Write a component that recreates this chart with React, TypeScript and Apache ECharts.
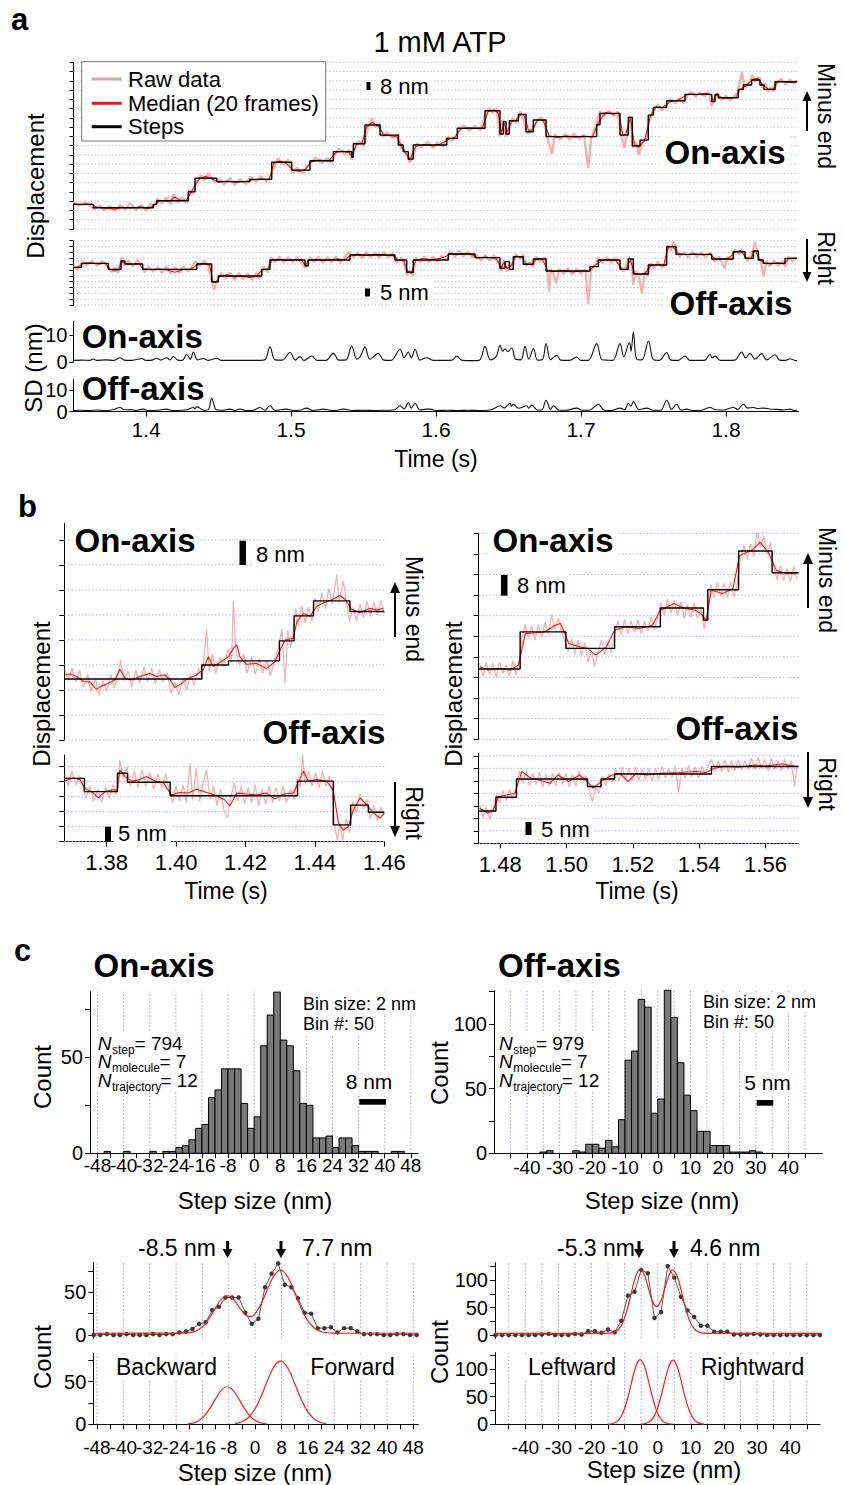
import React, { useEffect, useRef } from "react";
import * as echarts from "echarts";

const F = "'Liberation Sans', Arial, Helvetica, sans-serif";
const RAW_C = "#f5b0b0";
const MED_C = "#ff1010";

// ---------------- Panel a data (time s, displacement nm) ----------------
const aOnSteps = [[1.350,21.3],[1.3637,18.4],[1.4050,21.3],[1.4074,24.4],[1.4292,32.2],[1.4338,43.8],[1.4488,40.9],[1.4717,42.9],[1.4867,57.6],[1.5005,50.9],[1.5131,59.0],[1.5292,66.8],[1.5419,62.0],[1.5430,73.7],[1.5510,89.8],[1.5614,81.1],[1.5740,72.5],[1.5774,66.8],[1.5809,60.4],[1.5843,72.5],[1.6074,78.3],[1.6147,87.0],[1.6338,102.2],[1.6441,82.0],[1.6464,92.7],[1.6483,82.0],[1.6506,93.5],[1.6568,99.0],[1.6621,84.0],[1.6671,94.1],[1.6759,79.8],[1.7108,90.0],[1.7131,99.9],[1.7269,81.1],[1.7326,96.4],[1.7354,71.9],[1.7407,76.8],[1.7464,98.4],[1.7499,105.1],[1.7591,110.8],[1.7717,116.3],[1.7901,110.0],[1.7924,116.3],[1.7947,113.4],[1.8085,120.6],[1.8119,124.4],[1.8177,128.7],[1.8234,124.4],[1.8262,120.6],[1.8338,127.2],[1.849,127.2]];
const aOnMedian = [[1.350,22.0],[1.356,21.0],[1.362,21.8],[1.366,18.8],[1.372,18.0],[1.378,17.0],[1.384,18.8],[1.390,18.2],[1.396,19.2],[1.402,17.6],[1.406,21.0],[1.410,24.8],[1.416,23.8],[1.420,27.5],[1.424,24.6],[1.428,25.0],[1.431,31.5],[1.434,38.0],[1.437,43.5],[1.441,45.5],[1.446,43.0],[1.450,40.5],[1.456,41.5],[1.462,40.2],[1.468,41.0],[1.474,42.5],[1.480,43.3],[1.485,42.8],[1.488,56.5],[1.492,58.8],[1.496,57.2],[1.502,50.5],[1.506,49.8],[1.510,51.5],[1.514,58.2],[1.520,59.6],[1.526,58.7],[1.531,66.2],[1.536,67.4],[1.540,66.0],[1.542,62.5],[1.545,73.0],[1.549,74.2],[1.552,88.0],[1.556,92.0],[1.560,89.0],[1.564,81.5],[1.569,80.6],[1.573,79.5],[1.576,72.0],[1.579,66.0],[1.582,60.0],[1.586,71.5],[1.592,73.0],[1.598,72.0],[1.603,73.2],[1.609,77.8],[1.613,79.0],[1.617,86.5],[1.622,87.5],[1.628,86.8],[1.632,87.3],[1.636,101.5],[1.640,103.0],[1.643,100.0],[1.645,83.0],[1.647,91.5],[1.649,83.5],[1.652,92.8],[1.655,94.0],[1.659,99.5],[1.661,97.5],[1.664,84.5],[1.667,86.0],[1.670,94.5],[1.674,93.5],[1.678,80.5],[1.684,79.0],[1.690,80.6],[1.696,79.2],[1.702,80.2],[1.708,79.5],[1.712,92.0],[1.717,100.5],[1.722,99.2],[1.726,100.2],[1.729,81.0],[1.731,82.0],[1.734,96.0],[1.737,72.5],[1.740,70.5],[1.744,77.0],[1.748,98.0],[1.752,105.5],[1.756,104.6],[1.762,110.2],[1.767,111.5],[1.774,116.5],[1.780,116.0],[1.786,117.2],[1.790,115.8],[1.791,110.5],[1.793,115.8],[1.798,113.2],[1.803,112.8],[1.807,114.0],[1.810,120.8],[1.814,124.0],[1.819,129.5],[1.822,130.2],[1.825,124.8],[1.829,121.0],[1.832,120.2],[1.836,127.8],[1.841,127.0],[1.846,126.5],[1.849,127.4]];
const aOnRaw = [[1.350,23.5],[1.353,20.0],[1.358,23.0],[1.361,20.2],[1.364,17.0],[1.368,20.5],[1.371,16.5],[1.375,19.8],[1.379,15.8],[1.382,20.5],[1.386,17.0],[1.389,22.5],[1.393,16.8],[1.397,20.8],[1.400,16.0],[1.403,22.0],[1.405,18.5],[1.408,26.0],[1.411,22.0],[1.414,27.0],[1.417,21.5],[1.419,30.5],[1.422,22.5],[1.425,27.5],[1.428,22.5],[1.430,34.0],[1.432,30.0],[1.435,41.5],[1.438,46.5],[1.440,42.0],[1.443,48.0],[1.447,40.5],[1.451,43.0],[1.454,38.5],[1.458,43.8],[1.461,38.0],[1.465,43.0],[1.469,38.8],[1.472,45.0],[1.476,40.5],[1.479,45.5],[1.483,40.8],[1.486,46.0],[1.489,55.0],[1.491,61.0],[1.494,55.5],[1.498,60.0],[1.501,48.5],[1.504,53.0],[1.508,48.0],[1.511,54.0],[1.513,57.0],[1.517,61.5],[1.521,56.8],[1.525,61.0],[1.528,57.0],[1.530,64.0],[1.533,69.5],[1.537,64.5],[1.540,68.5],[1.542,60.0],[1.544,71.5],[1.547,76.0],[1.550,71.5],[1.553,87.0],[1.556,96.0],[1.558,88.0],[1.561,91.0],[1.563,79.5],[1.566,83.5],[1.570,78.5],[1.574,82.0],[1.576,70.0],[1.578,68.5],[1.580,63.5],[1.582,57.5],[1.584,63.0],[1.587,74.0],[1.590,70.5],[1.594,75.0],[1.598,70.0],[1.601,74.8],[1.605,71.0],[1.608,80.0],[1.611,76.0],[1.614,80.5],[1.616,85.0],[1.619,89.5],[1.623,85.0],[1.627,89.0],[1.631,85.5],[1.634,99.5],[1.637,104.5],[1.639,100.0],[1.642,104.0],[1.644,80.5],[1.646,94.5],[1.648,80.0],[1.650,85.0],[1.653,95.5],[1.656,91.5],[1.658,101.5],[1.660,96.5],[1.663,82.0],[1.666,87.0],[1.669,92.0],[1.672,96.5],[1.675,91.5],[1.677,78.0],[1.680,65.0],[1.682,81.5],[1.686,77.5],[1.689,82.0],[1.692,77.0],[1.695,82.5],[1.699,77.5],[1.702,81.5],[1.705,52.5],[1.707,78.0],[1.710,88.5],[1.713,101.5],[1.716,98.0],[1.719,102.0],[1.723,97.5],[1.725,101.5],[1.728,79.0],[1.730,70.0],[1.732,84.0],[1.734,98.0],[1.736,70.0],[1.738,74.5],[1.740,64.0],[1.742,74.0],[1.745,79.0],[1.747,95.5],[1.750,103.0],[1.753,107.5],[1.756,102.5],[1.759,108.0],[1.762,112.0],[1.765,108.5],[1.768,113.0],[1.771,109.0],[1.773,114.5],[1.776,118.5],[1.779,114.0],[1.782,118.0],[1.785,114.5],[1.788,118.5],[1.790,106.5],[1.792,112.0],[1.794,117.5],[1.797,111.5],[1.800,115.0],[1.803,111.0],[1.806,115.5],[1.808,118.0],[1.811,135.5],[1.813,121.5],[1.816,126.5],[1.818,133.0],[1.820,127.0],[1.823,131.5],[1.825,122.0],[1.827,126.0],[1.829,118.5],[1.831,122.5],[1.833,119.0],[1.835,126.0],[1.838,129.5],[1.841,125.0],[1.844,129.0],[1.847,125.5],[1.849,128.5]];

const aOffSteps = [[1.350,32.2],[1.3556,35.6],[1.3740,30.5],[1.3828,37.6],[1.3855,35.1],[1.3977,30.5],[1.4350,35.1],[1.4453,19.9],[1.4499,24.8],[1.4798,30.5],[1.4855,38.5],[1.5097,33.6],[1.5119,38.5],[1.5407,42.8],[1.5717,38.5],[1.5798,28.0],[1.5843,38.5],[1.6085,43.6],[1.6269,40.5],[1.6441,31.4],[1.6476,37.1],[1.6506,30.5],[1.6533,41.3],[1.6602,34.8],[1.6671,39.3],[1.6759,29.1],[1.7062,32.8],[1.7119,38.5],[1.7269,30.5],[1.7326,39.3],[1.7361,26.5],[1.7464,34.2],[1.7591,49.9],[1.7655,43.3],[1.7901,39.3],[1.8050,45.6],[1.8131,39.9],[1.8188,46.2],[1.8223,38.5],[1.8257,35.6],[1.8407,39.9],[1.849,39.9]];
const aOffMedian = [[1.350,31.8],[1.354,33.0],[1.357,35.8],[1.362,36.2],[1.367,35.0],[1.372,35.8],[1.375,31.0],[1.378,29.0],[1.381,30.0],[1.383,37.2],[1.386,35.5],[1.390,34.6],[1.395,35.3],[1.398,31.0],[1.404,30.2],[1.410,30.8],[1.416,29.5],[1.420,28.0],[1.426,30.4],[1.431,30.8],[1.436,35.0],[1.441,35.6],[1.444,34.0],[1.446,20.0],[1.448,19.0],[1.451,24.5],[1.456,25.8],[1.461,24.0],[1.466,24.8],[1.471,23.5],[1.476,24.5],[1.480,30.0],[1.484,30.8],[1.487,38.5],[1.492,39.2],[1.497,38.0],[1.502,38.6],[1.507,38.8],[1.510,33.8],[1.512,37.8],[1.517,39.0],[1.522,38.2],[1.527,38.6],[1.532,39.4],[1.537,38.5],[1.541,42.6],[1.546,43.2],[1.551,42.5],[1.556,42.9],[1.561,43.3],[1.566,42.6],[1.571,42.0],[1.574,38.8],[1.578,37.5],[1.580,29.5],[1.583,27.2],[1.586,38.2],[1.591,39.6],[1.596,38.8],[1.601,39.5],[1.606,41.0],[1.610,43.8],[1.615,43.0],[1.620,44.2],[1.625,43.0],[1.629,40.2],[1.634,41.0],[1.639,40.2],[1.642,39.0],[1.645,32.0],[1.647,36.5],[1.649,31.0],[1.652,34.0],[1.655,41.8],[1.659,40.8],[1.662,35.5],[1.666,34.2],[1.669,39.0],[1.673,39.8],[1.677,29.8],[1.682,28.5],[1.688,29.5],[1.694,28.2],[1.700,29.4],[1.705,28.6],[1.709,33.2],[1.714,38.0],[1.719,38.8],[1.724,38.0],[1.728,31.2],[1.731,30.0],[1.734,38.6],[1.737,27.0],[1.741,25.8],[1.744,26.8],[1.748,33.5],[1.753,34.8],[1.757,33.6],[1.760,49.0],[1.763,50.5],[1.767,44.0],[1.772,43.0],[1.778,43.8],[1.784,42.8],[1.789,43.5],[1.792,39.8],[1.797,39.0],[1.802,40.0],[1.806,45.2],[1.810,46.5],[1.814,40.5],[1.817,39.5],[1.820,46.8],[1.823,39.0],[1.826,36.0],[1.831,35.2],[1.836,36.2],[1.840,35.0],[1.843,39.5],[1.847,40.4],[1.849,39.8]];
const aOffRaw = [[1.350,33.5],[1.353,30.0],[1.356,37.5],[1.359,33.8],[1.363,38.0],[1.366,33.5],[1.370,37.8],[1.373,33.0],[1.376,28.5],[1.379,32.0],[1.381,27.5],[1.383,40.5],[1.385,34.0],[1.388,38.0],[1.391,33.0],[1.394,38.5],[1.397,34.0],[1.399,28.0],[1.402,33.0],[1.405,28.5],[1.408,32.5],[1.411,27.5],[1.414,33.0],[1.417,27.0],[1.420,32.5],[1.423,27.5],[1.426,33.0],[1.429,28.5],[1.432,33.5],[1.434,37.5],[1.437,33.0],[1.440,38.0],[1.443,33.5],[1.445,22.0],[1.447,12.8],[1.449,21.0],[1.452,27.5],[1.455,22.5],[1.458,28.0],[1.461,21.5],[1.464,27.5],[1.467,21.8],[1.470,27.0],[1.473,21.5],[1.476,27.5],[1.478,22.0],[1.481,33.0],[1.484,28.0],[1.486,41.0],[1.489,36.5],[1.492,41.5],[1.495,36.0],[1.498,41.0],[1.501,36.5],[1.504,41.0],[1.507,36.0],[1.510,31.5],[1.513,41.0],[1.516,36.5],[1.519,41.5],[1.522,36.0],[1.525,41.0],[1.528,36.5],[1.531,41.5],[1.534,36.0],[1.537,41.0],[1.540,45.5],[1.543,40.5],[1.546,45.0],[1.549,40.0],[1.552,45.5],[1.555,40.5],[1.558,45.0],[1.561,40.0],[1.564,45.5],[1.567,40.5],[1.570,44.0],[1.573,36.0],[1.576,40.5],[1.578,35.0],[1.580,25.0],[1.582,30.0],[1.584,24.5],[1.586,40.5],[1.589,36.5],[1.592,41.5],[1.595,36.5],[1.598,41.5],[1.601,37.0],[1.604,42.0],[1.607,38.5],[1.610,46.0],[1.613,41.0],[1.616,46.5],[1.619,41.5],[1.622,46.0],[1.625,41.0],[1.628,43.0],[1.631,38.0],[1.634,43.0],[1.637,38.0],[1.640,42.5],[1.643,36.0],[1.645,29.0],[1.647,38.5],[1.649,28.5],[1.651,36.0],[1.653,31.0],[1.655,44.0],[1.658,39.0],[1.660,43.5],[1.662,33.5],[1.665,37.0],[1.667,32.0],[1.669,41.5],[1.672,37.0],[1.675,41.0],[1.677,27.0],[1.678,11.4],[1.679,31.0],[1.681,26.0],[1.683,18.6],[1.685,31.0],[1.688,26.5],[1.691,31.5],[1.694,26.0],[1.697,31.0],[1.700,26.5],[1.703,31.0],[1.705,1.0],[1.707,30.5],[1.710,35.0],[1.712,40.5],[1.715,36.0],[1.718,41.0],[1.721,36.0],[1.724,40.5],[1.727,33.0],[1.729,28.5],[1.731,33.0],[1.733,41.5],[1.735,36.0],[1.736,17.1],[1.738,29.0],[1.740,24.0],[1.742,10.0],[1.744,29.0],[1.746,24.5],[1.748,36.0],[1.750,31.5],[1.753,37.0],[1.756,32.0],[1.758,36.0],[1.760,51.0],[1.762,46.5],[1.764,54.0],[1.766,46.0],[1.768,41.0],[1.771,45.5],[1.774,40.5],[1.777,46.0],[1.780,41.0],[1.783,45.5],[1.786,40.5],[1.789,45.0],[1.792,37.0],[1.795,41.5],[1.797,36.5],[1.799,31.4],[1.801,41.5],[1.804,38.0],[1.806,47.5],[1.809,43.0],[1.811,48.0],[1.813,42.0],[1.815,37.5],[1.817,42.0],[1.819,49.0],[1.820,54.0],[1.822,44.0],[1.824,36.5],[1.826,24.2],[1.828,38.0],[1.830,33.0],[1.833,38.0],[1.836,33.5],[1.839,37.5],[1.841,33.0],[1.843,41.5],[1.846,37.5],[1.849,41.0]];

const sdOn = [[1.350,0.6],[1.356,0.7],[1.361,0.6],[1.3637,1.1],[1.366,0.6],[1.372,0.8],[1.378,0.6],[1.3821,1.6],[1.385,0.7],[1.390,0.6],[1.3940,1.0],[1.3970,1.3],[1.400,0.6],[1.404,0.7],[1.4074,1.4],[1.410,0.7],[1.4143,1.6],[1.4165,0.8],[1.4189,2.0],[1.422,0.7],[1.425,0.6],[1.4281,2.8],[1.4305,1.0],[1.4327,3.7],[1.4355,0.8],[1.4396,1.3],[1.443,0.6],[1.4487,1.4],[1.452,0.6],[1.460,0.6],[1.470,0.6],[1.478,0.6],[1.482,0.8],[1.4855,5.6],[1.489,0.8],[1.494,0.7],[1.4993,3.5],[1.503,0.7],[1.5062,2.0],[1.509,0.6],[1.5143,2.2],[1.518,0.6],[1.524,0.6],[1.5292,3.2],[1.533,0.7],[1.538,0.8],[1.5418,5.9],[1.5455,1.0],[1.5480,2.2],[1.5510,5.6],[1.5545,1.0],[1.5602,3.2],[1.564,0.7],[1.569,0.6],[1.5752,4.7],[1.578,1.6],[1.5809,3.7],[1.583,1.5],[1.5855,4.7],[1.589,0.7],[1.5936,1.6],[1.598,0.6],[1.605,0.6],[1.611,0.7],[1.6143,2.2],[1.618,0.6],[1.625,0.5],[1.630,0.7],[1.6338,5.8],[1.6375,0.8],[1.6415,2.0],[1.6442,6.2],[1.6460,4.0],[1.6476,4.9],[1.6495,3.8],[1.6522,5.2],[1.655,1.0],[1.6585,0.8],[1.6614,5.8],[1.6640,1.0],[1.6672,5.0],[1.670,0.7],[1.6735,1.0],[1.6759,6.8],[1.679,0.8],[1.6833,2.5],[1.686,0.7],[1.692,0.6],[1.6970,1.8],[1.700,0.6],[1.705,0.6],[1.7108,6.8],[1.7145,0.8],[1.718,0.7],[1.722,0.6],[1.7269,6.8],[1.7295,2.0],[1.7334,7.2],[1.7345,4.0],[1.7361,11.1],[1.7385,1.0],[1.742,0.8],[1.7465,7.8],[1.750,0.8],[1.754,0.6],[1.7591,3.5],[1.762,0.7],[1.767,0.6],[1.7718,2.2],[1.775,0.6],[1.780,0.6],[1.785,0.6],[1.7890,2.8],[1.7905,1.5],[1.7924,2.2],[1.796,0.6],[1.801,0.6],[1.806,0.7],[1.8108,3.7],[1.8135,1.5],[1.8166,3.2],[1.820,1.0],[1.8246,3.1],[1.828,0.8],[1.8338,2.7],[1.837,0.7],[1.841,0.6],[1.8442,1.2],[1.8475,0.6],[1.849,0.5]];
const sdOff = [[1.350,0.5],[1.355,0.6],[1.360,0.4],[1.366,0.7],[1.372,0.5],[1.3775,0.9],[1.3821,1.9],[1.385,0.8],[1.389,0.9],[1.393,0.5],[1.3982,1.1],[1.402,0.4],[1.408,0.6],[1.4143,1.1],[1.418,0.5],[1.424,0.6],[1.428,0.8],[1.4327,1.9],[1.4338,1.2],[1.4350,2.3],[1.440,0.6],[1.4430,0.9],[1.4453,6.2],[1.4485,0.8],[1.452,0.6],[1.4579,1.1],[1.461,0.5],[1.4648,1.1],[1.469,0.5],[1.474,0.6],[1.4786,1.9],[1.482,0.6],[1.4855,2.7],[1.489,0.5],[1.4970,1.1],[1.502,0.5],[1.506,0.6],[1.5108,1.6],[1.515,0.5],[1.5223,1.1],[1.528,0.5],[1.532,0.6],[1.5361,1.1],[1.542,0.5],[1.550,0.6],[1.558,0.5],[1.565,0.6],[1.571,0.7],[1.5752,2.7],[1.578,1.2],[1.5809,4.2],[1.583,1.5],[1.5855,3.9],[1.589,0.7],[1.5936,1.1],[1.5959,1.1],[1.600,0.5],[1.608,0.6],[1.615,0.5],[1.622,0.6],[1.630,0.5],[1.636,0.6],[1.640,1.4],[1.6442,2.7],[1.647,1.6],[1.6511,3.9],[1.652,2.5],[1.6534,3.4],[1.657,1.5],[1.6626,2.7],[1.664,1.5],[1.6660,3.0],[1.670,0.7],[1.673,0.8],[1.6759,5.3],[1.679,1.0],[1.6810,2.7],[1.685,0.6],[1.690,0.6],[1.6970,1.6],[1.701,0.6],[1.706,0.7],[1.7120,3.4],[1.716,0.6],[1.721,0.5],[1.7269,1.6],[1.730,0.8],[1.7327,3.9],[1.7345,2.5],[1.7361,4.7],[1.740,0.8],[1.7453,1.6],[1.750,0.6],[1.755,0.6],[1.7591,5.3],[1.7625,1.0],[1.7660,3.4],[1.769,0.6],[1.7729,1.1],[1.777,0.5],[1.783,0.6],[1.7890,1.9],[1.793,0.8],[1.798,0.7],[1.8051,1.9],[1.808,1.0],[1.8120,3.4],[1.815,1.6],[1.8189,1.9],[1.822,1.4],[1.8258,1.6],[1.830,1.2],[1.835,1.0],[1.840,0.7],[1.8442,1.1],[1.847,0.5],[1.849,0.6]];

// ---------------- Panel b data ----------------
const bLOnSteps = [[1.3678,19.5],[1.4074,24.0],[1.4151,25.3],[1.4298,31.7],[1.4340,39.7],[1.4396,44.5],[1.4501,41.1],[1.4600,41.1]];
const bLOnMedian = [[1.3680,20.8],[1.3694,21.1],[1.3714,20.3],[1.3733,18.7],[1.3752,18.5],[1.3771,16.2],[1.3786,17.3],[1.3800,17.9],[1.3824,19.2],[1.3838,22.6],[1.3853,19.7],[1.3872,19.2],[1.3896,20.3],[1.3925,21.3],[1.3944,20.3],[1.3968,20.8],[1.3983,19.2],[1.3997,16.8],[1.4016,18.1],[1.4035,19.7],[1.4059,20.8],[1.4079,22.6],[1.4093,26.6],[1.4107,23.5],[1.4131,25.1],[1.4151,26.6],[1.4165,29.3],[1.4175,30.4],[1.4184,26.6],[1.4203,24.2],[1.4232,24.5],[1.4261,22.9],[1.4285,25.1],[1.4300,28.8],[1.4314,32.0],[1.4338,32.5],[1.4348,37.9],[1.4367,40.5],[1.4386,39.5],[1.4405,42.7],[1.4424,43.8],[1.4448,44.8],[1.4472,46.2],[1.4487,45.0],[1.4506,41.8],[1.4530,40.7],[1.4559,42.1],[1.4578,41.6],[1.4597,42.1]];
const bLOnRaw = [[1.3680,22.5],[1.3690,19.0],[1.3700,23.0],[1.3712,18.5],[1.3722,22.5],[1.3733,17.0],[1.3745,21.0],[1.3755,15.5],[1.3768,19.5],[1.3778,14.5],[1.3790,19.0],[1.3800,15.5],[1.3812,21.0],[1.3822,16.5],[1.3835,21.5],[1.3840,25.6],[1.3850,19.0],[1.3862,22.0],[1.3872,17.0],[1.3885,22.5],[1.3895,18.0],[1.3908,23.5],[1.3918,18.5],[1.3930,23.0],[1.3940,18.0],[1.3952,22.5],[1.3962,18.5],[1.3975,21.5],[1.3985,15.0],[1.3997,18.5],[1.4008,14.5],[1.4020,19.5],[1.4030,16.0],[1.4042,21.0],[1.4052,17.5],[1.4065,23.0],[1.4075,19.5],[1.4088,35.5],[1.4095,22.0],[1.4105,27.5],[1.4115,21.5],[1.4127,26.5],[1.4137,23.5],[1.4150,29.0],[1.4160,25.0],[1.4165,44.5],[1.4172,29.0],[1.4182,24.0],[1.4195,27.5],[1.4205,21.5],[1.4218,26.5],[1.4228,21.0],[1.4240,26.0],[1.4250,21.5],[1.4262,25.5],[1.4272,20.5],[1.4285,26.0],[1.4295,29.5],[1.4305,35.5],[1.4314,18.1],[1.4322,35.0],[1.4330,29.5],[1.4338,34.5],[1.4345,42.0],[1.4352,36.5],[1.4362,43.0],[1.4372,37.5],[1.4382,42.5],[1.4392,38.0],[1.4400,45.5],[1.4410,41.0],[1.4420,47.0],[1.4430,42.0],[1.4440,48.5],[1.4450,43.5],[1.4463,52.8],[1.4470,44.0],[1.4482,51.0],[1.4490,45.0],[1.4500,37.9],[1.4510,42.5],[1.4520,38.0],[1.4530,43.5],[1.4540,39.0],[1.4550,44.5],[1.4560,39.5],[1.4570,44.0],[1.4580,40.0],[1.4590,44.5],[1.4600,40.5]];
const bLOffSteps = [[1.3678,21.1],[1.3736,16.7],[1.3831,22.8],[1.3860,19.8],[1.3983,15.3],[1.4350,20.2],[1.4453,5.6],[1.4503,12.2],[1.4554,9.8],[1.4600,9.8]];
const bLOffMedian = [[1.3680,20.2],[1.3704,21.3],[1.3723,20.7],[1.3738,17.7],[1.3762,16.2],[1.3776,14.6],[1.3795,16.7],[1.3814,17.2],[1.3831,17.2],[1.3838,23.9],[1.3853,21.7],[1.3872,20.2],[1.3896,20.7],[1.3915,21.7],[1.3939,20.2],[1.3963,19.7],[1.3987,15.6],[1.4011,16.4],[1.4035,16.2],[1.4059,17.5],[1.4088,16.4],[1.4117,15.3],[1.4141,13.9],[1.4155,11.9],[1.4175,16.2],[1.4203,15.9],[1.4232,15.6],[1.4261,16.2],[1.4285,14.2],[1.4309,15.9],[1.4338,16.2],[1.4352,19.7],[1.4367,23.6],[1.4381,20.2],[1.4405,20.7],[1.4434,20.2],[1.4453,17.2],[1.4468,6.2],[1.4482,3.9],[1.4496,5.0],[1.4511,10.6],[1.4530,14.6],[1.4549,12.4],[1.4568,9.6],[1.4588,7.9],[1.4600,9.6]];
const bLOffRaw = [[1.3680,22.5],[1.3690,18.5],[1.3700,23.5],[1.3712,19.0],[1.3722,22.0],[1.3733,18.0],[1.3740,14.5],[1.3752,18.5],[1.3762,13.5],[1.3775,17.5],[1.3785,13.0],[1.3797,18.5],[1.3807,14.5],[1.3818,19.0],[1.3828,15.5],[1.3838,27.2],[1.3848,21.0],[1.3858,25.0],[1.3868,18.5],[1.3880,23.5],[1.3890,18.0],[1.3902,24.0],[1.3912,18.5],[1.3925,23.0],[1.3935,17.5],[1.3948,22.5],[1.3958,18.0],[1.3970,22.5],[1.3980,17.0],[1.3990,13.0],[1.4000,18.5],[1.4010,13.5],[1.4020,19.0],[1.4030,13.0],[1.4040,26.1],[1.4048,14.0],[1.4058,24.5],[1.4068,13.5],[1.4078,19.5],[1.4088,24.0],[1.4098,14.0],[1.4108,18.5],[1.4118,12.0],[1.4128,17.5],[1.4138,10.5],[1.4148,7.8],[1.4158,15.0],[1.4168,19.5],[1.4178,13.5],[1.4188,18.5],[1.4198,12.5],[1.4208,18.0],[1.4218,13.0],[1.4228,19.0],[1.4238,12.0],[1.4248,17.5],[1.4258,12.5],[1.4268,18.5],[1.4278,13.0],[1.4288,18.0],[1.4298,13.5],[1.4308,18.5],[1.4318,13.0],[1.4330,17.5],[1.4340,14.0],[1.4350,21.5],[1.4358,18.0],[1.4365,28.9],[1.4372,19.0],[1.4382,23.5],[1.4392,18.5],[1.4402,23.0],[1.4412,18.0],[1.4422,23.5],[1.4432,18.5],[1.4442,22.0],[1.4450,16.0],[1.4458,4.5],[1.4465,0.5],[1.4472,6.0],[1.4480,0.5],[1.4490,7.5],[1.4500,3.0],[1.4510,13.5],[1.4520,9.5],[1.4530,16.0],[1.4540,11.0],[1.4550,14.0],[1.4560,7.5],[1.4570,12.0],[1.4580,7.0],[1.4590,11.5],[1.4600,8.5]];

const bROnSteps = [[1.4735,27.3],[1.4860,41.7],[1.4998,35.3],[1.5145,43.7],[1.5283,51.0],[1.5413,46.3],[1.5426,58.1],[1.5519,73.1],[1.5620,64.7],[1.5700,64.7]];
const bROnMedian = [[1.4738,28.2],[1.4763,26.9],[1.4795,27.5],[1.4828,26.9],[1.4855,28.8],[1.4876,41.1],[1.4901,41.3],[1.4933,41.7],[1.4966,44.3],[1.4982,45.0],[1.5007,37.2],[1.5039,35.9],[1.5063,35.3],[1.5088,32.7],[1.5120,35.9],[1.5145,42.4],[1.5177,43.7],[1.5218,43.0],[1.5259,44.3],[1.5283,50.1],[1.5324,52.7],[1.5356,50.8],[1.5389,50.1],[1.5405,48.8],[1.5421,46.3],[1.5437,57.9],[1.5470,56.6],[1.5502,58.5],[1.5522,71.4],[1.5559,73.4],[1.5584,76.6],[1.5608,72.7],[1.5633,65.6],[1.5665,64.3],[1.5694,64.3]];
const bROnRaw = [[1.4738,29.5],[1.4748,24.5],[1.4758,30.0],[1.4768,25.0],[1.4778,29.5],[1.4788,24.0],[1.4798,30.0],[1.4808,25.5],[1.4818,29.0],[1.4828,24.5],[1.4838,30.5],[1.4848,25.0],[1.4858,31.0],[1.4865,38.5],[1.4875,44.5],[1.4885,39.0],[1.4895,44.0],[1.4905,38.5],[1.4915,44.5],[1.4925,39.5],[1.4935,45.5],[1.4945,41.0],[1.4955,48.2],[1.4965,42.5],[1.4975,47.0],[1.4985,41.5],[1.4995,38.0],[1.5005,34.0],[1.5015,39.0],[1.5025,33.0],[1.5035,38.5],[1.5045,32.5],[1.5055,37.5],[1.5065,30.0],[1.5075,34.5],[1.5085,28.2],[1.5095,34.0],[1.5105,38.5],[1.5115,33.0],[1.5125,38.0],[1.5135,33.5],[1.5145,41.0],[1.5155,46.0],[1.5165,40.5],[1.5175,46.5],[1.5185,41.0],[1.5195,46.0],[1.5205,41.5],[1.5215,46.5],[1.5225,41.0],[1.5235,46.0],[1.5245,42.0],[1.5255,47.5],[1.5265,42.5],[1.5275,47.5],[1.5285,53.0],[1.5295,48.5],[1.5305,54.5],[1.5315,49.0],[1.5325,54.0],[1.5335,48.0],[1.5345,53.5],[1.5355,47.0],[1.5365,52.5],[1.5375,47.5],[1.5385,53.0],[1.5395,47.0],[1.5405,51.0],[1.5415,43.0],[1.5425,48.5],[1.5435,60.0],[1.5445,55.0],[1.5455,61.0],[1.5465,55.5],[1.5475,60.5],[1.5485,55.0],[1.5495,61.0],[1.5505,55.5],[1.5515,60.0],[1.5525,70.5],[1.5535,75.5],[1.5545,70.0],[1.5555,76.0],[1.5565,71.0],[1.5575,81.8],[1.5585,74.5],[1.5595,79.0],[1.5605,72.0],[1.5615,76.5],[1.5625,67.0],[1.5635,62.0],[1.5645,67.5],[1.5655,61.5],[1.5665,66.5],[1.5675,61.0],[1.5685,67.0],[1.5695,62.0]];
const bROffSteps = [[1.4735,12.9],[1.4787,18.4],[1.4849,25.7],[1.5063,22.7],[1.5104,25.7],[1.5145,27.7],[1.5437,30.7],[1.5700,30.7]];
const bROffMedian = [[1.4738,14.0],[1.4763,12.0],[1.4779,13.3],[1.4795,18.7],[1.4820,19.3],[1.4844,20.0],[1.4865,28.7],[1.4893,26.0],[1.4917,25.3],[1.4950,24.0],[1.4974,27.3],[1.5007,24.7],[1.5039,27.3],[1.5063,24.7],[1.5080,22.0],[1.5104,24.7],[1.5137,27.3],[1.5161,28.0],[1.5185,24.7],[1.5210,28.0],[1.5242,27.3],[1.5283,28.0],[1.5340,28.3],[1.5389,28.7],[1.5421,28.3],[1.5446,30.0],[1.5478,30.7],[1.5519,30.4],[1.5567,31.3],[1.5600,30.9],[1.5649,31.7],[1.5694,30.7]];
const bROffRaw = [[1.4738,15.5],[1.4748,10.5],[1.4758,14.5],[1.4768,9.5],[1.4778,14.0],[1.4788,19.5],[1.4798,16.0],[1.4808,21.0],[1.4818,17.0],[1.4828,21.5],[1.4838,17.5],[1.4848,22.0],[1.4858,29.0],[1.4868,24.0],[1.4878,28.5],[1.4888,23.0],[1.4898,28.0],[1.4908,23.5],[1.4918,28.5],[1.4928,22.5],[1.4938,27.5],[1.4948,23.0],[1.4958,28.0],[1.4968,23.0],[1.4978,28.5],[1.4988,23.5],[1.4998,28.0],[1.5008,22.5],[1.5018,27.5],[1.5028,23.0],[1.5038,29.0],[1.5048,24.0],[1.5058,27.0],[1.5068,21.0],[1.5078,16.7],[1.5088,22.5],[1.5098,20.0],[1.5108,27.0],[1.5118,23.0],[1.5128,27.5],[1.5138,24.0],[1.5148,30.0],[1.5158,25.0],[1.5168,30.5],[1.5178,25.5],[1.5188,30.0],[1.5198,25.0],[1.5208,30.5],[1.5218,25.0],[1.5228,29.5],[1.5238,25.5],[1.5248,30.0],[1.5258,25.0],[1.5268,30.0],[1.5278,25.5],[1.5288,31.0],[1.5298,26.0],[1.5308,30.0],[1.5318,26.5],[1.5328,31.0],[1.5338,20.5],[1.5348,30.0],[1.5358,26.0],[1.5368,31.0],[1.5378,26.5],[1.5388,30.5],[1.5398,26.0],[1.5408,31.0],[1.5418,27.5],[1.5428,31.5],[1.5438,33.5],[1.5448,29.0],[1.5458,33.0],[1.5468,28.5],[1.5478,33.5],[1.5488,28.5],[1.5498,33.0],[1.5508,29.0],[1.5518,33.5],[1.5528,29.5],[1.5538,33.0],[1.5548,29.5],[1.5558,34.0],[1.5568,29.5],[1.5578,34.5],[1.5588,30.0],[1.5598,33.5],[1.5608,29.0],[1.5618,34.0],[1.5628,29.5],[1.5638,33.0],[1.5648,29.0],[1.5658,33.5],[1.5668,29.5],[1.5678,33.0],[1.5688,22.7],[1.5695,31.0]];

// ---------------- Panel c data ----------------
const BIN_MIN = -50;
const BIN = 2;
const onCounts = [0,0,1,0,0,1,0,0,0,1, 0,1,1,3,4,7,13,15,29,33, 44,44,44,26,13,19,56,72,84,59, 56,43,26,25,8,8,9,3,8,8, 4,1,1,1,0,0,1,1,0,0];
const offCounts = [0,0,0,0,0,0,0,1,2,0, 0,0,2,1,7,7,4,10,5,26, 72,79,119,113,31,42,126,105,70,45, 33,17,17,6,6,6,1,1,1,2, 1,0,0,0,0,0,0,0,0,0];
const onFitSum = [[-49,2],[-24,2.1],[-22,2.2],[-20,2.7],[-18,4.6],[-16,9.6],[-14,19.1],[-12,32.0],[-10,43.0],[-8.5,46.0],[-7,43.5],[-6,39.1],[-4,28.3],[-2,21.8],[-1,21.9],[0,24.8],[2,37.7],[4,55.9],[6,71.1],[7.7,76.0],[10,67.3],[12,49.8],[14,31.0],[16,16.5],[18,8.0],[20,4.1],[22,2.6],[24,2.2],[26,2.0],[49.5,2.0]];
const onFitBack = [[-20.5,0.5],[-18,2.6],[-16,7.6],[-14,17.1],[-12,30.0],[-10,41.0],[-8.5,44.0],[-7,41.0],[-5,30.0],[-3,17.1],[-1,7.6],[1,2.6],[3,0.7],[3.5,0.5]];
const onFitFwd = [[-6.1,0.8],[-4,2.9],[-2,8.0],[0,18.2],[2,34.3],[4,53.6],[6,69.1],[7.7,74.0],[10,65.3],[12,47.8],[14,29.0],[16,14.5],[18,6.0],[20,2.1],[21.5,0.9]];
const offFitSum = [[-49.1,3],[-16,3],[-15,3.3],[-14,3.9],[-13,5.7],[-12,9.7],[-11,17.7],[-10,31.6],[-9,51.9],[-8,76.5],[-7,100.3],[-6,116.4],[-5.3,120.2],[-4,109.1],[-3,89.4],[-2,68.6],[-1,54.7],[-0.5,52.0],[0,52.6],[1,63.0],[2,82.3],[3,102.9],[4,116.9],[4.6,119.2],[6,105.3],[7,83.4],[8,58.5],[9,36.8],[10,21.1],[11,11.5],[12,6.5],[13,4.3],[14,3.4],[15,3.0],[49,3]];
const offFitLeft = [[-15,0.3],[-14,0.9],[-13,2.7],[-12,6.7],[-11,14.7],[-10,28.6],[-9,48.9],[-8,73.5],[-7,97.3],[-6,113.4],[-5.3,117],[-4,105.1],[-3,83.5],[-2,58.4],[-1,36.0],[0,19.5],[1,9.3],[2,3.9],[3,1.4],[4,0.5],[4.5,0.2]];
const offFitRight = [[-5,0.3],[-4,1.0],[-3,2.9],[-2,7.2],[-1,15.7],[0,30.1],[1,50.7],[2,75.4],[3,98.5],[4,113.4],[4.6,116],[5,114.8],[6,102.3],[7,80.4],[8,55.5],[9,33.8],[10,18.1],[11,8.5],[12,3.5],[13,1.3],[14,0.4]];

// ---------------- Ticks ----------------
const aTimeTicks = [1.4, 1.5, 1.6, 1.7, 1.8];
const bLTimeTicks = [1.38, 1.40, 1.42, 1.44, 1.46];
const bRTimeTicks = [1.48, 1.50, 1.52, 1.54, 1.56];
const aOnGrid = [0,8,16,24,32,40,48,56,64,72,80,88,96,104,112,120,128,136,144];
const aOffGrid = [0,5,10,15,20,25,30,35,40,45,50,55];
const sdTicks = [0, 10];
const bLOnGrid = [0,8,16,24,32,40,48,56,64];
const bLOffGrid = [0,5,10,15,20,25];
const bROnGrid = [0,8,16,24,32,40,48,56,64,72,80];
const bROffGrid = [0,5,10,15,20,25,30,35];
const onStepLabels = [-48,-40,-32,-24,-16,-8,0,8,16,24,32,40,48];
const onStepTicks = [-48,-44,-40,-36,-32,-28,-24,-20,-16,-12,-8,-4,0,4,8,12,16,20,24,28,32,36,40,44,48];
const offStepLabels = [-40,-30,-20,-10,0,10,20,30,40];
const offStepTicks = [-45,-40,-35,-30,-25,-20,-15,-10,-5,0,5,10,15,20,25,30,35,40,45];
const countLabels80 = [0, 50];
const countTicks80 = [0, 25, 50, 75];
const countLabels130 = [0, 50, 100];
const countTicks130 = [0, 25, 50, 75, 100, 125];

// ---------------- helpers ----------------
const grids = [
  { left: 73.5, top: 62.3, width: 725, height: 166.7 },
  { left: 73.5, top: 240.7, width: 725, height: 64.3 },
  { left: 73.5, top: 321.5, width: 725, height: 40.5 },
  { left: 73.5, top: 379.5, width: 725, height: 32 },
  { left: 64.3, top: 523.3, width: 320, height: 216.7 },
  { left: 64.3, top: 755, width: 320, height: 86.7 },
  { left: 478.7, top: 533.3, width: 319.9, height: 206 },
  { left: 478.7, top: 753.3, width: 319.9, height: 90 },
  { left: 90, top: 991.7, width: 328, height: 161.6 },
  { left: 494, top: 990.7, width: 328.3, height: 162.6 },
  { left: 93.3, top: 1262.7, width: 325, height: 75.6 },
  { left: 93.3, top: 1353.3, width: 325, height: 71 },
  { left: 495, top: 1262.7, width: 325, height: 75.6 },
  { left: 495, top: 1352.7, width: 325, height: 71.6 },
].map((g) => ({ ...g, containLabel: false, outerBoundsMode: "none", show: false }));

function ax(gridIndex: number, min: number, max: number, o: any = {}) {
  return {
    gridIndex, type: "value", min, max, show: o.show !== false, position: o.position,
    axisLine: { show: !!o.line, onZero: false, lineStyle: { color: "#000", width: 1 } },
    axisTick: { show: !!o.ticks, customValues: o.ticks, length: o.tickLen ?? 5, inside: false, lineStyle: { color: "#000", width: 1 } },
    axisLabel: {
      show: !!o.labels, customValues: o.labels, margin: o.margin ?? 6, fontSize: o.fontSize ?? 19,
      fontFamily: F, color: "#000", formatter: o.fmt, showMinLabel: true, showMaxLabel: true, hideOverlap: false,
    },
    splitLine: { show: false },
    minorTick: { show: false },
  };
}

function lineS(idx: number, data: number[][], color: string, width: number, z: number, extra: any = {}) {
  return { type: "line", xAxisIndex: idx, yAxisIndex: idx, data, showSymbol: false, symbol: "none", silent: true, z, lineStyle: { color, width }, ...extra };
}
function trace(idx: number, raw: number[][], med: number[][], steps: number[][], rawW: number) {
  return [
    lineS(idx, raw, RAW_C, rawW, 2),
    lineS(idx, med, MED_C, 1.1, 3),
    lineS(idx, steps, "#000", 1.4, 4, { step: "end" }),
  ];
}
function hGrid(idx: number, ticks: number[], x0: number, x1: number, color: string) {
  return {
    type: "custom", xAxisIndex: idx, yAxisIndex: idx, silent: true, z: 1, clip: false,
    data: ticks.map((v) => [x0, v]), encode: { x: 0, y: 1 },
    renderItem: (_p: any, api: any) => {
      const v = api.value(1);
      const a = api.coord([x0, v]);
      const b = api.coord([x1, v]);
      return { type: "line", shape: { x1: a[0], y1: a[1], x2: b[0], y2: b[1] }, style: { stroke: color, lineWidth: 1, lineDash: [1.5, 2] } };
    },
  };
}
function vGrid(idx: number, ticks: number[], y0: number, y1: number, color: string) {
  return {
    type: "custom", xAxisIndex: idx, yAxisIndex: idx, silent: true, z: 1, clip: false,
    data: ticks.map((v) => [v, y0]), encode: { x: 0, y: 1 },
    renderItem: (_p: any, api: any) => {
      const v = api.value(0);
      const a = api.coord([v, y0]);
      const b = api.coord([v, y1]);
      return { type: "line", shape: { x1: a[0], y1: a[1], x2: b[0], y2: b[1] }, style: { stroke: color, lineWidth: 1, lineDash: [1.5, 2] } };
    },
  };
}
// x-axis tick labels drawn through the axis scale (allows tightly packed labels like the original)
function xLabels(idx: number, values: number[], yAt: number, offset: number, size: number) {
  return {
    type: "custom", xAxisIndex: idx, yAxisIndex: idx, silent: true, z: 6, clip: false,
    data: values.map((v) => [v, yAt]), encode: { x: 0, y: 1 },
    renderItem: (_p: any, api: any) => {
      const v = api.value(0);
      const p = api.coord([v, yAt]);
      return {
        type: "text", x: p[0], y: p[1] + offset,
        style: { text: String(v), font: `${size}px ${F}`, fill: "#000", align: "center", verticalAlign: "top", textAlign: "center", textVerticalAlign: "top" },
      };
    },
  };
}
function hist(idx: number, counts: number[]) {
  return {
    type: "custom", xAxisIndex: idx, yAxisIndex: idx, silent: true, z: 3,
    data: counts.map((c, i) => [BIN_MIN + (i + 0.5) * BIN, c]), encode: { x: 0, y: 1 },
    renderItem: (_p: any, api: any) => {
      const x = api.value(0);
      const c = api.value(1);
      if (!c) return null;
      const p0 = api.coord([x - BIN / 2, c]);
      const p1 = api.coord([x + BIN / 2, 0]);
      return { type: "rect", shape: { x: p0[0], y: p0[1], width: p1[0] - p0[0], height: p1[1] - p0[1] }, style: { fill: "#7a7a7a", stroke: "#000", lineWidth: 1 } };
    },
  };
}
function dots(idx: number, counts: number[]) {
  return {
    type: "line", xAxisIndex: idx, yAxisIndex: idx, silent: true, z: 4,
    data: counts.map((c, i) => [BIN_MIN + (i + 0.5) * BIN, c]),
    symbol: "circle", symbolSize: 4.5, showSymbol: true,
    itemStyle: { color: "#3a3a3a" }, lineStyle: { color: "#555", width: 1 },
  };
}
function fit(idx: number, data: number[][], smooth: number) {
  return lineS(idx, data, "#ff1a1a", 1.2, 5, { smooth });
}

// graphic helpers
function T(x: number, y: number, text: string, size: number, o: any = {}) {
  const style: any = {
    x: 0, y: 0, text, fill: "#000",
    font: `${o.italic ? "italic " : ""}${o.bold ? "bold " : ""}${size}px ${F}`,
    align: o.align || "left", verticalAlign: "middle",
    textAlign: o.align || "left", textVerticalAlign: "middle",
  };
  if (o.bg) { style.backgroundColor = "#fff"; style.padding = o.pad || [1, 4]; }
  return { type: "text", x, y, rotation: o.rot || 0, z: 100, silent: true, style };
}
function R(x: number, y: number, w: number, h: number, fill = "#000", stroke?: string) {
  return { type: "rect", z: 99, silent: true, shape: { x, y, width: w, height: h }, style: { fill, stroke, lineWidth: stroke ? 1 : 0 } };
}
function L(x1: number, y1: number, x2: number, y2: number, color = "#000", w = 1) {
  return { type: "line", z: 100, silent: true, shape: { x1, y1, x2, y2 }, style: { stroke: color, lineWidth: w } };
}
function arrow(x: number, yTail: number, yTip: number, headW: number, headL: number, lw: number) {
  const dir = yTip < yTail ? 1 : -1;
  return [
    L(x, yTail, x, yTip + dir * headL, "#000", lw),
    { type: "polygon", z: 100, silent: true, shape: { points: [[x - headW / 2, yTip + dir * headL], [x + headW / 2, yTip + dir * headL], [x, yTip]] }, style: { fill: "#000" } },
  ];
}
function Nlabel(x: number, y: number, sub: string, subW: number, rest: string) {
  return [
    T(x, y, "N", 19, { italic: true }),
    T(x + 14.2, y + 6.5, sub, 12),
    T(x + 14.2 + subW, y, rest, 19),
  ];
}
const R90 = Math.PI / 2;

function buildOption() {
  const xAxis = [
    ax(0, 1.35, 1.85, { show: false }),
    ax(1, 1.35, 1.85, { show: false }),
    ax(2, 1.35, 1.85, { show: false }),
    ax(3, 1.35, 1.85, { line: true, ticks: aTimeTicks, labels: aTimeTicks, fontSize: 21, margin: 7, fmt: (v: number) => v.toFixed(1) }),
    ax(4, 1.3678, 1.46, { show: false }),
    ax(5, 1.3678, 1.46, { line: true, ticks: bLTimeTicks, labels: bLTimeTicks, fontSize: 22, margin: 10, fmt: (v: number) => v.toFixed(2) }),
    ax(6, 1.4735, 1.57, { show: false }),
    ax(7, 1.4735, 1.57, { line: true, ticks: bRTimeTicks, labels: bRTimeTicks, fontSize: 22, margin: 10, fmt: (v: number) => v.toFixed(2) }),
    ax(8, -50.3, 50.2, { line: true, ticks: onStepTicks }),
    ax(9, -50.06, 50.3, { line: true, ticks: offStepTicks, labels: offStepLabels, margin: 5, fontSize: 19 }),
    ax(10, -49.1, 49.5, { show: false }),
    ax(11, -49.1, 49.5, { line: true, ticks: onStepTicks }),
    ax(12, -49.15, 49.0, { show: false }),
    ax(13, -49.15, 49.0, { line: true, ticks: offStepTicks, labels: offStepLabels, margin: 14, fontSize: 19 }),
  ];
  const yAxis = [
    ax(0, 0, 144, { line: true, ticks: aOnGrid, tickLen: 4 }),
    ax(1, 0, 55, { line: true, ticks: aOffGrid, tickLen: 4 }),
    ax(2, 0, 15, { line: true, ticks: sdTicks, labels: sdTicks, fontSize: 20, margin: 6, tickLen: 4 }),
    ax(3, 0, 15, { line: true, ticks: sdTicks, labels: sdTicks, fontSize: 20, margin: 6, tickLen: 4 }),
    ax(4, 0, 69.3, { line: true, ticks: bLOnGrid, tickLen: 5 }),
    ax(5, 0, 28.9, { line: true, ticks: bLOffGrid, tickLen: 5 }),
    ax(6, 0, 80, { line: true, ticks: bROnGrid, tickLen: 5 }),
    ax(7, 0, 36, { line: true, ticks: bROffGrid, tickLen: 5 }),
    ax(8, 0, 84.2, { line: true, ticks: countTicks80, labels: countLabels80, margin: 7, fontSize: 20 }),
    ax(9, 0, 125.7, { line: true, ticks: countTicks130, labels: countLabels130, margin: 7, fontSize: 20 }),
    ax(10, -3.9, 84.8, { line: true, ticks: countTicks80, labels: countLabels80, margin: 7, fontSize: 20 }),
    ax(11, 0, 83.2, { line: true, ticks: countTicks80, labels: countLabels80, margin: 7, fontSize: 20 }),
    ax(12, -6, 132.2, { line: true, ticks: countTicks130, labels: countLabels130, margin: 7, fontSize: 20 }),
    ax(13, 0, 129.5, { line: true, ticks: countTicks130, labels: countLabels130, margin: 7, fontSize: 20 }),
  ];

  const GA = "#c4c4c4";
  const GB = "#aaaaee";
  const GC = "#9c9ce2";
  const series: any[] = [
    hGrid(0, aOnGrid, 1.35, 1.85, GA),
    hGrid(1, aOffGrid, 1.35, 1.85, GA),
    ...trace(0, aOnRaw, aOnMedian, aOnSteps, 2.4),
    ...trace(1, aOffRaw, aOffMedian, aOffSteps, 2.2),
    lineS(2, sdOn, "#111", 1.1, 3, { smooth: 0.35 }),
    lineS(3, sdOff, "#111", 1.1, 3, { smooth: 0.35 }),
    hGrid(4, bLOnGrid, 1.3678, 1.46, GB),
    hGrid(5, bLOffGrid, 1.3678, 1.46, GB),
    hGrid(6, bROnGrid, 1.4735, 1.57, GB),
    hGrid(7, bROffGrid, 1.4735, 1.57, GB),
    ...trace(4, bLOnRaw, bLOnMedian, bLOnSteps, 1.3),
    ...trace(5, bLOffRaw, bLOffMedian, bLOffSteps, 1.3),
    ...trace(6, bROnRaw, bROnMedian, bROnSteps, 1.3),
    ...trace(7, bROffRaw, bROffMedian, bROffSteps, 1.3),
    vGrid(8, onStepLabels, 0, 84.2, GC),
    vGrid(9, offStepTicks, 0, 125.7, GC),
    hist(8, onCounts),
    hist(9, offCounts),
    xLabels(8, onStepLabels, 0, 3, 19),
    vGrid(10, onStepLabels, -3.9, 84.8, GC),
    vGrid(11, onStepLabels, 0, 83.2, GC),
    vGrid(12, offStepTicks, -6, 132.2, GC),
    vGrid(13, offStepTicks, 0, 129.5, GC),
    xLabels(11, onStepLabels, 0, 14, 19),
    dots(10, onCounts),
    fit(10, onFitSum, 0.45),
    fit(11, onFitBack, 0.45),
    fit(11, onFitFwd, 0.45),
    dots(12, offCounts),
    fit(12, offFitSum, 0.3),
    fit(13, offFitLeft, 0.3),
    fit(13, offFitRight, 0.3),
  ];

  const graphic: any[] = [
    // panel a
    T(11, 19, "a", 31, { bold: true }),
    T(440, 42, "1 mM ATP", 29, { align: "center" }),
    R(81.7, 61.7, 244, 79.3, "#fff", "#777"),
    L(91.7, 79, 121.7, 79, "#e0a3a3", 3),
    L(91.7, 103.3, 121.7, 103.3, MED_C, 3),
    L(91.7, 126.7, 121.7, 126.7, "#000", 3),
    T(128, 79, "Raw data", 22),
    T(128, 103.3, "Median (20 frames)", 22),
    T(128, 126.7, "Steps", 22),
    T(376, 86, "8 nm", 22, { bg: true }),
    R(366.5, 82, 4, 8),
    T(725, 152, "On-axis", 33, { bold: true, align: "center", bg: true }),
    T(826, 116, "Minus end", 23, { align: "center", rot: -R90 }),
    ...arrow(807, 131, 91, 9, 10, 2),
    T(826, 258, "Right", 23, { align: "center", rot: -R90 }),
    ...arrow(807, 239, 282, 9, 10, 2),
    T(731, 303, "Off-axis", 33, { bold: true, align: "center", bg: true }),
    T(376, 292, "5 nm", 22, { bg: true }),
    R(365, 288.5, 5, 8),
    T(81.7, 336.7, "On-axis", 33, { bold: true }),
    T(81.7, 388.3, "Off-axis", 33, { bold: true }),
    T(35, 186, "Displacement", 24, { align: "center", rot: R90 }),
    T(33, 368, "SD (nm)", 24, { align: "center", rot: R90 }),
    T(436, 459, "Time (s)", 23, { align: "center" }),
    // panel b
    T(18, 506, "b", 31, { bold: true }),
    T(135, 540, "On-axis", 33, { bold: true, align: "center", bg: true }),
    T(252, 554.5, "8 nm", 22, { bg: true }),
    R(239.5, 540.7, 6.5, 24.3),
    T(413.5, 609, "Minus end", 23, { align: "center", rot: -R90 }),
    ...arrow(395, 637, 582, 10, 11, 2),
    T(324, 732.7, "Off-axis", 33, { bold: true, align: "center", bg: true }),
    T(413.5, 813, "Right", 23, { align: "center", rot: -R90 }),
    ...arrow(395, 782, 837, 10, 11, 2),
    T(114, 833, "5 nm", 22, { bg: true }),
    R(105, 826.7, 6, 15),
    T(41, 694, "Displacement", 24, { align: "center", rot: R90 }),
    T(226, 891, "Time (s)", 23, { align: "center" }),
    T(553, 540, "On-axis", 33, { bold: true, align: "center", bg: true }),
    T(513, 585, "8 nm", 22, { bg: true }),
    R(501, 575, 6.5, 20.6),
    T(827, 580, "Minus end", 23, { align: "center", rot: -R90 }),
    ...arrow(808, 608, 553, 10, 11, 2),
    T(737, 728.3, "Off-axis", 33, { bold: true, align: "center", bg: true }),
    T(827, 784, "Right", 23, { align: "center", rot: -R90 }),
    ...arrow(808, 752, 808, 10, 11, 2),
    T(537, 829, "5 nm", 22, { bg: true }),
    R(525.5, 822, 6, 13),
    T(453, 694, "Displacement", 24, { align: "center", rot: R90 }),
    T(637, 891, "Time (s)", 23, { align: "center" }),
    // panel c
    T(14, 950, "c", 31, { bold: true }),
    T(154, 965, "On-axis", 33, { bold: true, align: "center" }),
    T(559.5, 965, "Off-axis", 33, { bold: true, align: "center" }),
    T(300, 1003.5, "Bin size: 2 nm", 18, { bg: true, pad: [1, 3] }),
    T(300, 1024, "Bin #: 50", 18, { bg: true, pad: [1, 3] }),
    T(700, 1002.3, "Bin size: 2 nm", 18, { bg: true, pad: [1, 3] }),
    T(700, 1022, "Bin #: 50", 18, { bg: true, pad: [1, 3] }),
    R(96, 1032, 104, 58, "#fff"),
    R(497, 1032, 104, 58, "#fff"),
    ...Nlabel(97.7, 1043.3, "step", 22.7, "= 794"),
    ...Nlabel(97.7, 1061.5, "molecule", 47.5, "= 7"),
    ...Nlabel(97.7, 1080.5, "trajectory", 48.5, "= 12"),
    ...Nlabel(499, 1043.3, "step", 22.7, "= 979"),
    ...Nlabel(499, 1061.7, "molecule", 47.5, "= 7"),
    ...Nlabel(499, 1080.7, "trajectory", 48.5, "= 12"),
    T(369, 1081.7, "8 nm", 21, { align: "center", bg: true }),
    R(359.3, 1099, 26.7, 5.7),
    T(767.5, 1082.7, "5 nm", 21, { align: "center", bg: true }),
    R(756.7, 1100, 16.6, 5.7),
    T(42.5, 1077, "Count", 24, { align: "center", rot: R90 }),
    T(439, 1073, "Count", 24, { align: "center", rot: R90 }),
    T(255, 1200, "Step size (nm)", 24, { align: "center" }),
    T(662, 1200, "Step size (nm)", 24, { align: "center" }),
    T(216, 1248, "-8.5 nm", 23, { align: "right" }),
    T(302, 1248, "7.7 nm", 23),
    T(635, 1248, "-5.3 nm", 23, { align: "right" }),
    T(690, 1248, "4.6 nm", 23),
    ...arrow(227.6, 1241, 1258, 10, 9, 3),
    ...arrow(281, 1241, 1258, 10, 9, 3),
    ...arrow(639, 1241, 1258, 10, 9, 3),
    ...arrow(674, 1241, 1258, 10, 9, 3),
    T(166.5, 1367, "Backward", 23, { align: "center", bg: true }),
    T(352.5, 1367, "Forward", 23, { align: "center", bg: true }),
    T(572, 1367, "Leftward", 23, { align: "center", bg: true }),
    T(752.5, 1367, "Rightward", 23, { align: "center", bg: true }),
    T(42.5, 1357, "Count", 24, { align: "center", rot: R90 }),
    T(439, 1352, "Count", 24, { align: "center", rot: R90 }),
    T(255, 1472, "Step size (nm)", 24, { align: "center" }),
    T(664, 1469, "Step size (nm)", 24, { align: "center" }),
  ];

  return {
    animation: false,
    backgroundColor: "#fff",
    textStyle: { fontFamily: F },
    grid: grids,
    xAxis,
    yAxis,
    series,
    graphic,
  };
}

export default function App() {
  const ref = useRef<HTMLDivElement>(null);
  useEffect(() => {
    if (!ref.current) return;
    const chart = echarts.init(ref.current, null, { renderer: "svg", width: 845, height: 1485 });
    chart.setOption(buildOption() as any);
    return () => chart.dispose();
  }, []);
  return (
    <div
      ref={ref}
      style={{ position: "absolute", left: 0, top: 0, width: 845, height: 1485, background: "#fff" }}
    />
  );
}
